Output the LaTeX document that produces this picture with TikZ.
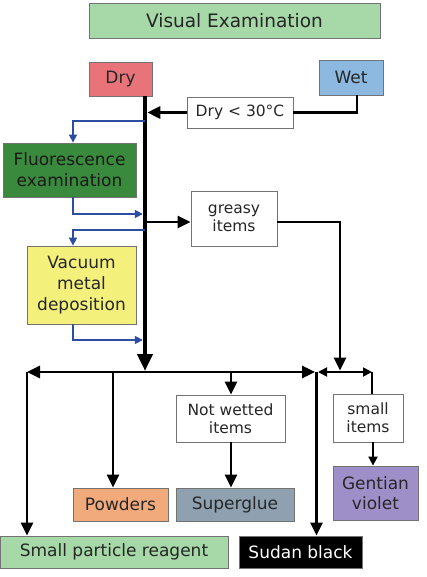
\documentclass[tikz,border=0pt]{standalone}
\usepackage{fontspec}
\setmainfont{DejaVu Sans}
\usetikzlibrary{arrows.meta, positioning}

\definecolor{visgreen}{RGB}{166,216,168}
\definecolor{dryred}{RGB}{232,116,122}
\definecolor{wetblue}{RGB}{141,184,224}
\definecolor{fluogreen}{RGB}{58,138,62}
\definecolor{vmdyellow}{RGB}{244,240,124}
\definecolor{powderorange}{RGB}{240,170,124}
\definecolor{gluegrey}{RGB}{143,161,177}
\definecolor{gvviolet}{RGB}{158,143,201}
\definecolor{arrowblue}{RGB}{45,78,160}

\begin{document}
\begin{tikzpicture}[x=1pt, y=-1pt,
	box/.style={draw=black!55, line width=0.8pt, align=center, inner sep=0pt, text=black!85,
		font=\fontsize{17}{21}\selectfont},
	note/.style={box, fill=white, font=\fontsize{15.5}{18}\selectfont},
	trunk/.style={line width=4.5pt, -{Triangle[length=17pt,width=15pt]}},
	wire/.style={line width=2.8pt},
	link/.style={wire, -{Triangle[length=13pt,width=12pt]}},
	thin link/.style={line width=1.8pt, -{Triangle[length=9pt,width=9pt]}},
	blueline/.style={draw=arrowblue, line width=1.6pt, -{Triangle[length=8pt,width=8pt]}}
]
\useasboundingbox (0,0) rectangle (426,577);

% boxes
\node[box, fill=visgreen, minimum width=291pt, minimum height=35pt, font=\fontsize{18.5}{22}\selectfont] (visual) at (234.5,20.5) {Visual Examination};
\node[box, fill=dryred, minimum width=63pt, minimum height=34pt] (dry) at (120.5,79) {Dry};
\node[box, fill=wetblue, minimum width=64pt, minimum height=35pt] (wet) at (351,77.5) {Wet};
\node[note, minimum width=106pt, minimum height=31pt] (cond) at (240,112.5) {Dry < 30\textdegree C};
\node[box, fill=fluogreen, minimum width=133pt, minimum height=54pt, text=black!90] (fluo) at (69.5,170) {Fluorescence\\examination};
\node[note, minimum width=86pt, minimum height=55pt] (greasy) at (234,218.5) {greasy\\items};
\node[box, fill=vmdyellow, minimum width=109pt, minimum height=78pt] (vmd) at (81.5,285) {Vacuum\\metal\\deposition};
\node[note, minimum width=109pt, minimum height=47pt] (notwet) at (230.5,418.5) {Not wetted\\items};
\node[note, minimum width=70pt, minimum height=48pt] (smallitems) at (368,418) {small\\items};
\node[box, fill=powderorange, minimum width=95pt, minimum height=33pt] (powders) at (120.5,504.5) {Powders};
\node[box, fill=gluegrey, minimum width=118pt, minimum height=33pt] (glue) at (235,504.5) {Superglue};
\node[box, fill=gvviolet, minimum width=85pt, minimum height=54pt, font=\fontsize{17}{20}\selectfont] (gentian) at (375.5,493) {Gentian\\violet};
\node[box, fill=visgreen, minimum width=228pt, minimum height=32pt] (spr) at (114,552) {Small particle reagent};
\node[box, fill=black, text=white, minimum width=123pt, minimum height=32pt] (sudan) at (300.5,552) {Sudan black};

% points on the lines
\coordinate (top) at (145,96);
\coordinate (hub) at (145,372);
\coordinate (m1) at (145,121);
\coordinate (m2) at (145,214);
\coordinate (m3) at (145,222);
\coordinate (m4) at (145,230);
\coordinate (m5) at (145,340);
\coordinate (wetdrop) at (357,95);
\coordinate (lcorner) at (27,372);
\coordinate (rcorner) at (316.5,372);
\coordinate (rr) at (372,372);
\coordinate (pw) at (113,372);
\coordinate (nw) at (231,372);
\coordinate (gdown) at (340,372);
\coordinate (gv) at (373,442);

% main line
\draw[trunk, shorten >=1pt] (top) -- (hub);
\draw[wire] (wetdrop) |- (cond.east);
\draw[link, shorten >=2.3pt] (cond.west) -- (cond.west -| top);
\draw[link] (m3) -- (m3 -| greasy.west);
\draw[wire] (m3 -| greasy.east) -| ([yshift=12pt]gdown);
\draw[link, shorten >=1.5pt] ([yshift=13pt]gdown) -- (gdown);

% blue side loops
\draw[blueline] (m1) -| ([xshift=3.5pt]fluo.north);
\draw[blueline, shorten >=2.2pt] ([xshift=3.5pt]fluo.south) |- (m2);
\draw[blueline] (m4) -| ([xshift=-8.5pt]vmd.north);
\draw[blueline, shorten >=2.2pt] ([xshift=-8.5pt]vmd.south) |- (m5);

% lower branches
\draw[link] (hub) -- (lcorner);
\draw[link] (hub) -- ([xshift=-1.5pt]rcorner);
\draw[link] (lcorner) -- (lcorner |- spr.north);
\draw[link] (rcorner) -- (rcorner |- sudan.north);
\draw[link] (pw) -- (pw |- powders.north);
\draw[link] (nw) -- (nw |- notwet.north);
\draw[link] (notwet.south -| nw) -- (nw |- glue.north);
\draw[thin link, {Triangle[length=9pt,width=9pt]}-{Triangle[length=9pt,width=9pt]}] ([xshift=1.5pt]rcorner) -- (rr);
\draw[line width=1.8pt] (rr) -- (rr |- smallitems.north);
\draw[thin link] (gv) -- (gv |- gentian.north);
\end{tikzpicture}
\end{document}
